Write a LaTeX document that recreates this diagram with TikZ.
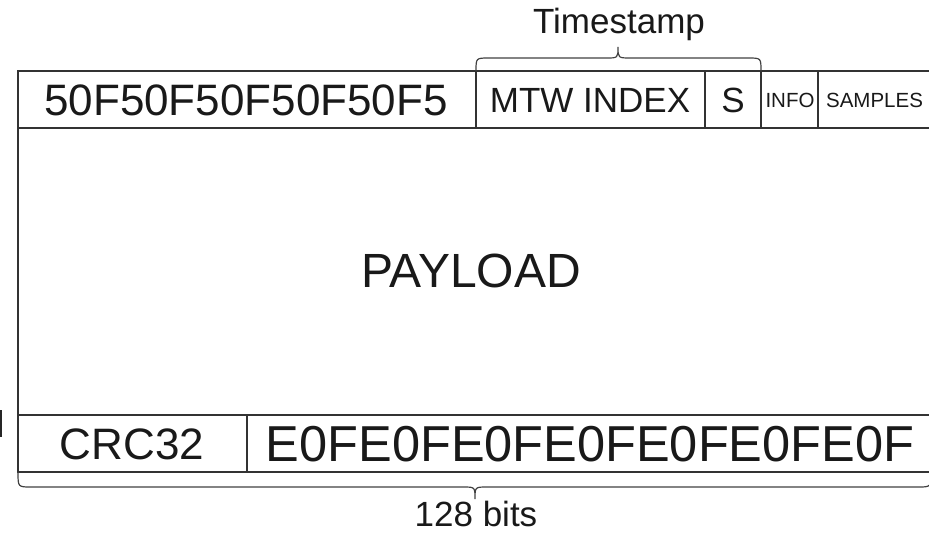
\documentclass[tikz,border=0pt]{standalone}
\usepackage{fontspec}
\setmainfont{Liberation Sans}
\tikzset{
  frame/.style={draw=black!80, line width=1.4pt},
  bracestyle/.style={draw=black!75, line width=1.2pt},
  big/.style={font=\fontsize{44}{50}\selectfont, text=black!90, inner sep=0pt},
  mid/.style={font=\fontsize{35}{40}\selectfont, text=black!90, inner sep=0pt},
  small/.style={font=\fontsize{20.5}{24}\selectfont, text=black!90, inner sep=0pt},
  lbl/.style={font=\fontsize{35}{40}\selectfont, text=black!90, inner sep=0pt}
}
\begin{document}
\begin{tikzpicture}[x=1pt,y=-1pt]
\useasboundingbox (0,0) rectangle (929,533);
% outer frame and rows
\draw[frame] (18,71) rectangle (931,472);
\draw[frame] (18,128) -- (931,128);
\draw[frame] (18,415) -- (931,415);
% top row separators
\draw[frame] (476,71) -- (476,128);
\draw[frame] (705,71) -- (705,128);
\draw[frame] (761,71) -- (761,128);
\draw[frame, line width=2pt] (818,71) -- (818,128);
% bottom row separator
\draw[frame] (247,415) -- (247,472);
% small mark on the left
\draw[black!85, line width=2pt] (1,410) -- (1,437);
% text nodes
\node[big] (sync) at (246,100) {50F50F50F50F50F5};
\node[mid] (mtw) at (590,100) {MTW INDEX};
\node[mid] (s) at (733,100) {S};
\node[small] (info) at (790,100) {INFO};
\node[small] (samples) at (874.5,100) {SAMPLES};
\node[big, font=\fontsize{48}{54}\selectfont] (payload) at (471,271) {PAYLOAD};
\node[big] (crc) at (132,444) {CRC32};
\node[big, font=\fontsize{50.5}{56}\selectfont] (tail) at (590,444) {E0FE0FE0FE0FE0FE0FE0F};
% timestamp brace
\draw[bracestyle] (476,71) .. controls (476,58) .. (489,58) -- (606,58)
  .. controls (618,58) .. (618,47) .. controls (618,58) .. (631,58) -- (748,58)
  .. controls (761,58) .. (761,71);
\node[lbl] (ts) at (619,24) {Timestamp};
% 128 bits brace
\draw[bracestyle] (18,472) .. controls (18,487) .. (31,487) -- (463,487)
  .. controls (475,487) .. (475,499) .. controls (475,487) .. (487,487) -- (918,487)
  .. controls (931,487) .. (931,472);
\node[lbl] (bits) at (476,514) {128 bits};
\end{tikzpicture}
\end{document}
